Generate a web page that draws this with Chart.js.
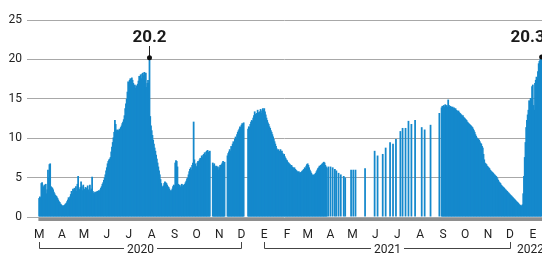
<!DOCTYPE html>
<html><head><meta charset="utf-8">
<script src="https://cdn.jsdelivr.net/npm/chart.js@4/dist/chart.umd.min.js"></script>
<style>html,body{margin:0;padding:0;background:#fff;}#wrap{width:542px;height:257px;}</style>
</head><body><div id="wrap"><canvas id="c" width="542" height="257"></canvas></div>
<script>
// ---- daily values (null = no data that day) ----
const feb20 = [null, null]; // 28-29 Feb 2020 (empty lead-in)
const mar20 = [null,null,null,null,null,null,null,null,null,null,null,null,null,null,
  2.4,2.6,2.5,4.3,4.4,3.6,3.9,4.1,3.6,4.2,3.0,3.5,6.0,5.0,6.7,6.8,3.9];
const apr20 = [3.8,3.7,3.5,3.2,3.0,2.8,2.7,2.6,2.4,2.2, 2.0,1.9,1.7,1.6,1.5,1.4,1.5,1.4,1.6,1.7,
  1.8,2.0,2.2,2.5,2.3,2.6,2.9,3.3,3.0,3.6];
const may20 = [3.4,3.7,3.5,3.9,3.3,4.2,5.2,3.6,3.5,3.8, 4.5,3.9,3.4,4.1,3.6,3.5,3.8,3.4,3.7,4.0,
  3.5,3.2,4.1,3.4,3.6,5.1,3.3,3.1,3.0,3.2, 3.1];
const jun20 = [3.2,3.3,3.2,3.4,3.3,3.5,3.7,3.9,4.2,4.4, 4.7,5.0,5.4,5.9,6.3,6.8,7.1,7.3,7.4,7.6,
  8.3,8.9,9.5,10.1,10.8,12.3,11.8,11.0,11.1,11.0];
const jul20 = [11.0,11.2,11.1,11.4,11.6,11.9,12.1,12.4,12.9,13.8, 14.4,15.0,15.9,17.2,17.0,17.4,17.6,17.5,17.7,17.4,
  17.0,16.6,16.8,16.4,16.7,16.3,16.9,17.3,17.9,17.5, 18.1];
const aug20 = [17.6,18.2,18.3,18.0,18.4,18.1,18.3,16.5,17.0,17.4, 17.0,20.2,12.8,11.6,11.0,10.4,9.8,9.3,8.8,8.4,
  7.9,7.4,6.9,6.4,5.9,5.4,4.8,4.3,3.9,3.8, 4.0];
const sep20 = [4.3,4.5,4.4,4.3,4.1,3.9,3.8,3.6,3.4,3.3, 3.4,3.6,3.9,4.1,4.0,6.9,7.2,7.1,6.4,4.2,
  3.9,4.1,3.8,4.0,4.2,3.9,4.1,4.0,4.2,4.4];
const oct20 = [4.6,4.9,5.0,5.4,5.8,6.1,6.3,6.0,6.6,6.9, 12.1,7.3,6.8,6.5,6.4,6.9,7.1,7.0,7.3,7.5,
  7.4,7.8,7.6,7.9,8.0,8.2,7.9,8.3,8.4,8.5, 8.3];
const nov20 = [8.1,8.4,null,null,null,6.9,6.6,6.8,6.5,6.3, 6.5,6.2,6.4,6.0,6.3,6.6,6.4,6.7,6.9,7.1,
  6.8,7.0,null,null,null,7.8,8.1,8.3,8.6,8.4];
const dec20 = [9.0,8.8,9.3,9.6,9.4,9.9,10.2,10.0,10.5,10.8, 11.0,11.2,11.5,11.4,11.7,11.9,11.8,12.0,null,null,
  null,null,null,11.2,11.5,11.4,11.8,12.1,12.3,12.2, 12.6];
const jan21 = [12.9,13.4,13.1,12.8,13.2,13.6,13.3,13.0,13.4,13.7, 13.2,13.5,13.8,13.6,13.8,13.4,13.0,12.6,12.3,12.0,
  11.8,11.5,11.3,11.0,10.8,10.5,10.2,9.9,9.6,9.3, 9.0];
const feb21 = [8.7,8.5,8.6,8.3,8.4,8.6,8.2,8.4,8.1,7.9, 8.0,7.7,7.5,7.3,7.2,7.0,6.9,6.8,6.7,6.5,
  6.6,6.4,6.3,6.2,6.3,6.1,6.0,5.9];
const mar21 = [5.8,5.7,5.8,5.6,5.7,5.6,5.8,5.9,6.0,6.1, 6.3,6.2,6.5,6.7,6.8,6.6,6.3,6.0,5.8,5.6,
  5.4,5.3,5.4,5.3,5.5,5.6,5.8,6.0,6.2,6.3, 6.5];
const apr21 = [6.5,6.6,6.7,6.8,6.9,7.0,6.9,6.6,6.4,6.2, null,6.4,null,null,6.4,null,null,6.3,null,null,
  6.1,null,5.9,null,null,5.6,null,null,5.4,null];
const may21 = [null,null,5.2,null,5.0,null,null,null,null,null, null,null,6.0,null,null,6.0,null,null,6.0,null,
  null,null,null,null,null,null,null,null,null,null, null];
const jun21 = [6.2,null,null,null,null,null,null,null,null,null, null,null,null,8.4,null,null,null,7.8,null,null,
  null,null,null,null,8.0,null,null,null,8.8,null];
const jul21 = [null,null,null,null,9.5,null,null,null,9.3,null, null,null,9.9,null,null,null,null,null,10.9,null,
  null,11.3,null,null,null,11.3,null,null,null,12.2, null];
const aug21 = [null,null,11.8,null,null,null,null,12.3,null,null, null,null,null,null,null,null,11.4,null,null,null,
  11.1,null,null,null,null,null,null,null,11.7,null, null];
const sep21 = [null,null,null,null,null,null,null,null,null,13.2, null,null,13.9,14.1,14.0,14.2,14.0,14.3,14.1,14.2,
  14.0,14.9,14.2,14.0,14.1,14.0,13.9,14.0,13.8,13.9];
const oct21 = [13.7,13.8,13.6,13.5,13.4,13.5,13.3,13.2,13.1,13.0, 12.8,12.9,12.7,12.6,12.5,12.4,12.3,12.1,12.0,11.9,
  11.8,11.7,11.6,11.5,11.4,11.2,11.0,10.8,10.5,10.3, 10.1];
const nov21 = [10.0,9.9,9.8,9.6,9.4,9.3,9.0,8.8,8.0,7.3, 6.9,6.8,6.7,6.5,6.4,6.3,6.2,6.0,5.9,5.8,
  5.7,5.6,5.5,5.4,5.3,5.2,5.1,4.9,4.7,4.5];
const dec21 = [4.4,4.3,4.1,4.0,3.9,3.8,3.7,3.6,3.5,3.4, 3.3,3.2,3.1,3.0,2.9,2.8,2.7,2.6,2.5,2.4,
  2.3,2.2,2.1,2.0,1.9,1.8,1.7,1.6,1.5,1.5, 1.4];
const jan22 = [1.6,3.0,5.2,7.6,9.5,11.4,12.3,13.0,13.6,14.8, 14.6,15.1,15.0,16.6,16.8,14.2,13.6,17.0,17.4,17.8,
  17.6,18.5,19.5,19.8,20.0,20.1,20.3];

// month blocks: [year, month, first day, values]
const blocks = [
  [2020,2,28,feb20],[2020,3,1,mar20],[2020,4,1,apr20],[2020,5,1,may20],[2020,6,1,jun20],
  [2020,7,1,jul20],[2020,8,1,aug20],[2020,9,1,sep20],[2020,10,1,oct20],[2020,11,1,nov20],[2020,12,1,dec20],
  [2021,1,1,jan21],[2021,2,1,feb21],[2021,3,1,mar21],[2021,4,1,apr21],[2021,5,1,may21],[2021,6,1,jun21],
  [2021,7,1,jul21],[2021,8,1,aug21],[2021,9,1,sep21],[2021,10,1,oct21],[2021,11,1,nov21],[2021,12,1,dec21],
  [2022,1,1,jan22]
];
const monthInitials = ['E','F','M','A','M','J','J','A','S','O','N','D'];
const yValues = [0,5,10,15,20,25];
const years = [
  {label:'2020', from:'2020-03-15', to:'2020-12-15'},
  {label:'2021', from:'2021-01-15', to:'2021-12-15'},
  {label:'2022', from:'2022-01-15', to:null}
];
const callouts = [
  {date:'2020-08-12', text:'20.2', value:20.2, dx:0},
  {date:'2022-01-27', text:'20.3', value:20.3, dx:-14}
];

const pad = n => String(n).padStart(2,'0');
const labels = [], values = [];
blocks.forEach(([y,m,d0,arr]) => arr.forEach((v,i) => {
  labels.push(`${y}-${pad(m)}-${pad(d0+i)}`); values.push(v);
}));

const FONT = 'Roboto, "Liberation Sans", Arial, sans-serif';

const overlay = {
  id:'overlay',
  afterDraw(chart){
    const {ctx, chartArea, scales:{x, y}} = chart;
    const w = x.width / labels.length;
    ctx.save();
    // axis band
    const x0 = x.getPixelForValue(labels.indexOf('2020-03-15')) - w;
    ctx.fillStyle = '#8e8e8e';
    ctx.fillRect(x0, y.getPixelForValue(0)+1, chartArea.right - x0, 3);
    // year brackets
    ctx.strokeStyle = '#444'; ctx.lineWidth = 1;
    ctx.font = '12px ' + FONT; ctx.fillStyle = '#222';
    ctx.textAlign = 'center'; ctx.textBaseline = 'middle';
    const yb = 248.5, yt = 242;
    years.forEach(yr => {
      const a = Math.round(x.getPixelForValue(labels.indexOf(yr.from))) + 0.5;
      if (yr.to) {
        const b = Math.round(x.getPixelForValue(labels.indexOf(yr.to))) + 0.5;
        const mid = (a+b)/2;
        const tw = ctx.measureText(yr.label).width/2 + 3;
        ctx.beginPath();
        ctx.moveTo(a, yt); ctx.lineTo(a, yb); ctx.lineTo(mid - tw, yb);
        ctx.moveTo(mid + tw, yb); ctx.lineTo(b, yb); ctx.lineTo(b, yt);
        ctx.stroke();
        ctx.fillText(yr.label, mid, 250);
      } else {
        ctx.fillText(yr.label, a - 3, 250);
      }
    });
    // callouts
    callouts.forEach(c => {
      const px = x.getPixelForValue(labels.indexOf(c.date));
      const py = y.getPixelForValue(c.value);
      ctx.strokeStyle = '#222';
      ctx.beginPath(); ctx.moveTo(Math.round(px)+0.5, 46); ctx.lineTo(Math.round(px)+0.5, py); ctx.stroke();
      ctx.fillStyle = '#111';
      ctx.beginPath(); ctx.arc(px, py, 2.5, 0, Math.PI*2); ctx.fill();
      ctx.font = 'bold 17px ' + FONT; ctx.textAlign = 'center'; ctx.textBaseline = 'alphabetic';
      ctx.fillStyle = '#1a1a1a';
      ctx.fillText(c.text, px + c.dx, 42);
    });
    ctx.restore();
  }
};

new Chart(document.getElementById('c'), {
  type:'bar',
  data:{labels, datasets:[{data:values, backgroundColor:'#1589cc', borderWidth:0,
    barPercentage:2.4, categoryPercentage:1}]},
  options:{
    responsive:false, animation:false,
    layout:{padding:{top:20,left:0,right:0,bottom:0}},
    plugins:{legend:{display:false}, tooltip:{enabled:false}},
    scales:{
      x:{
        grid:{display:false, drawTicks:true, tickLength:11}, border:{display:false},
        ticks:{autoSkip:false, maxRotation:0, minRotation:0, padding:0,
          color:'#222', font:{family:FONT, size:12},
          callback:function(v){ const s = labels[v]; return s.endsWith('-15') ? monthInitials[+s.slice(5,7)-1] : ''; }},
        afterFit(s){ s.height = 40; }
      },
      y:{
        min:0, max:25,
        afterBuildTicks(s){ s.ticks = yValues.map(v => ({value:v})); },
        grid:{color:'#a8a8a8', lineWidth:1, drawTicks:false},
        border:{display:false},
        ticks:{padding:5, color:'#222', font:{family:FONT, size:12}},
        afterFit(s){ s.width = 27; }
      }
    }
  },
  plugins:[overlay]
});
</script></body></html>
